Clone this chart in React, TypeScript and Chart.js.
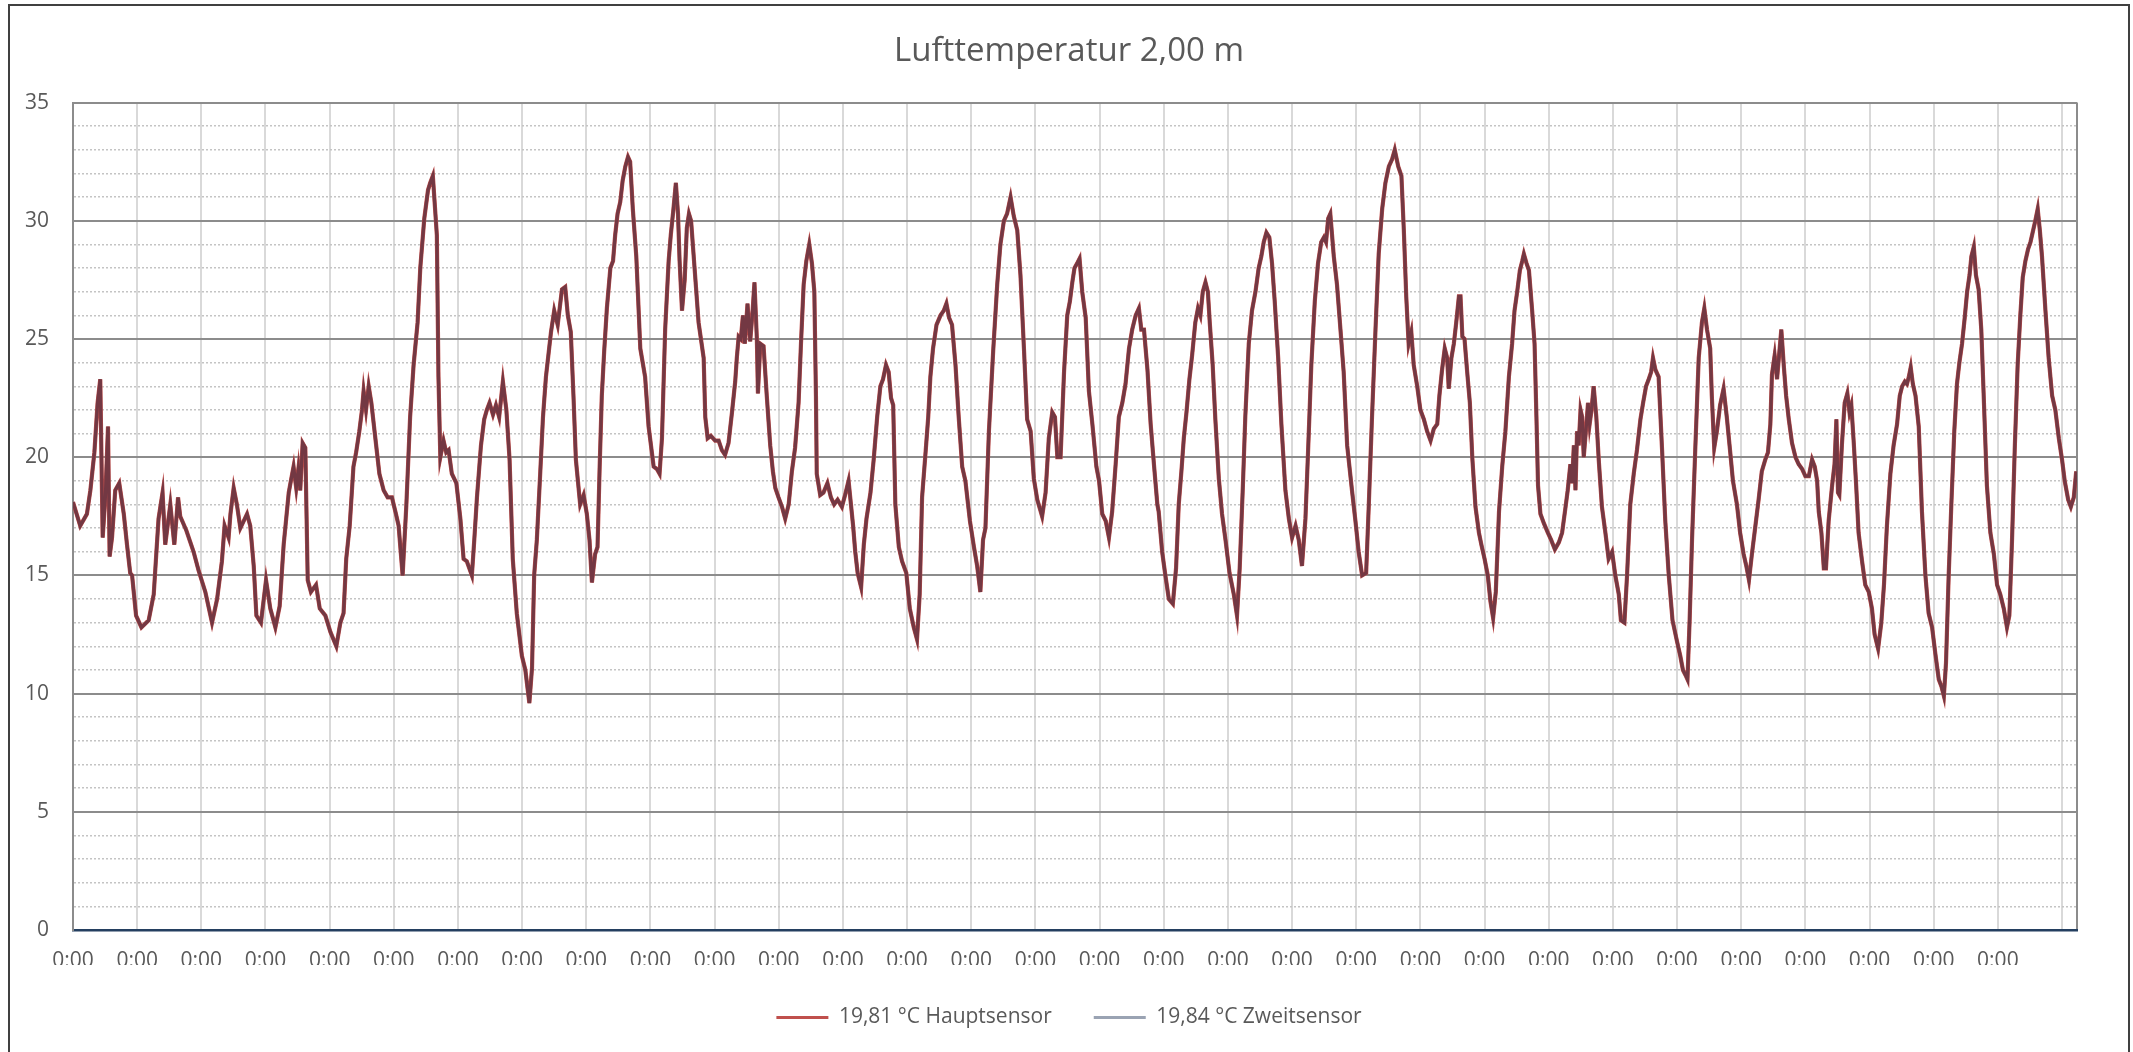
import React, { useEffect, useRef } from "react";
import { Chart, registerables } from "chart.js";

Chart.register(...registerables);

// ---- data (hours since first 0:00, temperature in °C) ----
const hours = [
  0, 2.7, 5.2, 6.5, 8.0, 9.2, 10.2, 11.1, 12.1, 13.1, 13.7, 14.6, 15.8, 17.3, 19.0, 20.2, 21.4, 22.1, 23.6,
  25.6, 28.3, 30.2, 31.2, 32.0, 33.5, 34.5, 36.4, 37.9, 39.3, 40.1, 42.4, 45.1, 47.0,
  49.5, 52.0, 53.9, 55.7, 56.7, 58.2, 58.9, 60.1, 61.3, 62.6, 65.1, 66.3, 67.6, 68.6, 70.3,
  72.2, 73.8, 75.7, 77.3, 78.8, 80.7, 81.5, 82.5, 83.5, 84.3, 85.0, 85.9, 86.9, 87.8, 89.0, 90.9, 92.3, 94.4, 96.3,
  98.5, 100.0, 101.2, 102.2, 103.5, 104.9, 105.9, 107.1, 108.1, 108.7, 109.6, 110.6, 111.6, 112.8, 114.6, 116.2, 117.7, 119.3,
  120.8, 121.8, 123.3, 124.7, 126.1, 127.4, 128.9, 129.9, 131.4, 132.8, 133.6, 134.6, 136.1, 136.7, 137.4, 138.6, 139.6, 140.5, 141.7, 143.4,
  144.9, 146.1, 147.3, 149.2, 150.1, 151.1, 152.6, 153.8, 154.8, 155.8, 157.1, 158.2, 159.4, 160.8, 162.1, 163.3, 164.5, 166.0, 167.9,
  169.2, 170.7, 171.7, 172.5, 173.5, 174.8, 175.8, 176.9, 177.9, 178.8, 180.0, 181.3, 182.9, 184.1, 185.1, 186.2, 187.2, 188.1, 189.7, 191.0,
  192.2, 193.2, 194.1, 195.3, 196.2, 197.0, 197.8, 198.7, 199.7, 201.0, 202.0, 202.8, 203.7, 204.7, 205.6, 206.6, 207.6, 208.4, 209.4, 210.7, 212.2, 214.0,
  215.3, 217.2, 218.4, 219.4, 220.3, 221.5, 222.8, 223.6, 224.6, 225.5, 226.3, 226.9, 227.8, 228.8, 229.6, 230.4, 231.2, 232.5, 234.0, 235.9, 236.5, 237.4, 238.6,
  240.2, 241.5, 242.7, 243.9, 245.2, 246.5, 247.7, 248.3, 249.0, 249.8, 250.6, 251.3, 252.3, 253.3, 254.1, 254.9, 255.8, 256.2, 257.1, 258.3, 259.5, 260.8, 261.8, 262.7,
  263.9, 265.2, 266.4, 267.7, 268.9, 270.1, 271.4, 272.3, 273.3, 274.3, 275.4, 276.4, 277.3, 277.9, 278.2, 279.5, 280.7, 282.2, 283.5, 284.7, 286.0, 287.6,
  288.8, 290.1, 291.8, 292.6, 293.5, 294.8, 295.8, 296.8, 298.3, 299.5, 300.8, 302.0, 303.0, 304.1, 305.1, 306.0, 306.8, 307.6, 308.9, 310.1, 311.7,
  313.0, 314.5, 315.7, 316.7, 317.6, 318.9, 319.9, 320.7, 321.7, 323.0, 324.5, 325.7, 326.7, 327.7, 328.8, 330.1, 331.3, 332.6, 333.8, 335.5,
  337.0, 338.2, 339.4, 340.4, 341.3, 342.6, 344.2, 345.7, 346.9, 348.2, 349.4, 350.7, 351.9, 353.2, 354.4, 355.7, 356.9, 358.2, 359.4,
  360.7, 362.5, 363.8, 365.0, 366.3, 367.3, 368.2, 369.4, 370.7, 371.9, 372.9, 373.8, 374.6, 375.6, 376.5, 377.5, 378.8, 380.0, 381.3, 382.8,
  383.8, 385.0, 386.3, 387.5, 388.7, 390.0, 391.2, 392.5, 393.7, 395.0, 396.2, 397.5, 398.7, 399.6, 400.6, 401.9, 403.1, 404.4, 405.6,
  406.1, 407.4, 408.6, 409.9, 411.4, 412.6, 413.6, 414.6, 415.5, 416.5, 417.6, 418.6, 419.8, 420.8, 421.7, 422.6, 423.6, 424.5, 425.2, 426.3, 427.3, 428.6, 429.8, 431.1,
  432.6, 434.2, 435.4, 436.4, 437.6, 438.5, 439.8, 441.0, 442.3, 443.5, 444.5, 445.4, 446.4, 447.5, 448.5, 449.5, 450.8, 452.0, 453.5, 454.8,
  456.0, 457.3, 458.5, 459.7, 461.0, 462.0, 463.2, 464.5, 465.7, 466.9, 467.9, 468.7, 469.5, 470.3, 471.6, 472.8, 474.1, 475.3, 476.6, 478.4, 479.7,
  480.9, 482.2, 483.7, 484.7, 485.9, 487.2, 488.4, 489.7, 490.9, 492.2, 493.4, 494.4, 495.7, 496.9, 497.8, 498.7, 499.6, 500.6, 501.5, 502.8,
  504.0, 505.3, 506.5, 507.8, 509.0, 510.3, 511.1, 512.1, 513.1, 514.0, 514.6, 515.6, 516.5, 517.4, 518.4, 519.0, 519.7, 520.5, 521.5, 522.5, 523.4, 524.6, 525.9, 526.8,
  528.0, 529.2, 530.2, 531.2, 532.2, 533.4, 534.6, 535.8, 537.1, 538.3, 539.2, 540.2, 541.2, 542.1, 542.7, 543.7, 544.6, 545.8, 546.7, 547.4, 548.0, 548.9, 550.2, 551.7,
  552.9, 554.3, 555.8, 557.0, 558.3, 559.1, 560.1, 560.7, 561.4, 562.0, 562.6, 563.2, 563.9, 564.5, 565.1, 566.1, 566.7, 567.3, 568.0, 568.8, 569.8, 570.7, 571.9, 573.2, 574.4, 575.7,
  576.9, 578.2, 579.0, 580.3, 581.3, 582.5, 583.8, 585.0, 586.3, 587.3, 588.4, 589.4, 590.3, 591.0, 591.9, 593.1, 594.4, 595.6, 596.9, 598.3,
  600.0, 601.2, 602.2, 603.1, 603.9, 604.7, 605.6, 606.8, 608.1, 609.3, 610.2, 611.2, 612.4, 613.0, 613.9, 614.9, 616.1, 617.4, 618.6, 619.9, 620.9, 622.4, 623.6,
  624.9, 625.9, 626.9, 628.0, 629.2, 630.5, 631.7, 633.0, 634.0, 634.9, 635.5, 636.5, 637.4, 638.3, 639.0, 639.9, 640.8, 641.8, 643.0, 644.3, 645.5, 646.8,
  648.0, 649.3, 650.5, 651.5, 652.4, 653.0, 654.0, 654.9, 655.7, 656.7, 658.0, 658.9, 659.6, 660.2, 660.7, 661.7, 662.7, 663.7, 664.5, 665.2, 666.1, 667.0, 667.9, 669.2, 670.4, 671.7,
  672.9, 673.9, 675.2, 676.4, 677.4, 678.5, 679.8, 681.0, 682.3, 683.3, 684.2, 685.2, 686.0, 686.7, 687.4, 688.2, 689.2, 690.4, 691.6, 692.9, 694.1, 695.4,
  696.6, 697.9, 698.9, 699.8, 700.6, 701.6, 702.6, 703.7, 704.7, 705.6, 706.6, 707.6, 708.5, 709.4, 710.1, 711.0, 711.8, 712.8, 713.8, 714.7, 715.9, 717.2, 718.5, 719.7,
  720.9, 722.2, 723.4, 724.3, 725.3, 726.3, 727.4, 728.4, 729.3, 730.3, 731.3, 732.2, 733.2, 734.0, 734.9, 735.7, 736.5, 737.8, 739.0, 740.3, 741.5, 742.8,
  744.0, 745.0, 746.3, 747.3, 748.4, 749.3,
];

const hauptsensor = [
  18.1, 17.1, 17.6, 18.6, 20.2, 22.3, 23.3, 16.6, 18.3, 21.3, 15.8, 16.6, 18.6, 18.9, 17.6, 16.3, 15.1, 15.0, 13.3,
  12.8, 13.1, 14.2, 16.0, 17.4, 18.5, 16.3, 18.0, 16.3, 18.3, 17.5, 16.9, 16.0, 15.2,
  14.3, 13.0, 14.0, 15.6, 17.1, 16.6, 17.6, 18.7, 18.0, 17.0, 17.6, 17.1, 15.4, 13.3, 13.0,
  14.8, 13.6, 12.8, 13.7, 16.3, 18.5, 19.0, 19.6, 18.7, 19.5, 18.6, 20.6, 20.4, 14.8, 14.3, 14.6, 13.6, 13.3, 12.6,
  12.0, 13.0, 13.4, 15.7, 17.1, 19.6, 20.2, 21.1, 22.0, 22.8, 22.0, 23.0, 22.3, 21.1, 19.3, 18.6, 18.3, 18.3,
  17.6, 17.1, 15.0, 18.0, 21.7, 23.9, 25.7, 28.0, 30.1, 31.3, 31.6, 31.9, 29.4, 23.4, 20.0, 20.7, 20.2, 20.3, 19.3, 18.9,
  17.4, 15.7, 15.6, 15.0, 16.5, 18.3, 20.5, 21.6, 22.0, 22.3, 21.8, 22.2, 21.7, 23.2, 22.0, 19.9, 15.7, 13.4, 11.6,
  11.0, 9.6, 11.1, 15.0, 16.5, 19.4, 21.7, 23.4, 24.4, 25.3, 26.2, 25.6, 27.1, 27.2, 26.0, 25.3, 22.6, 19.9, 18.0, 18.4,
  17.6, 16.5, 14.7, 15.9, 16.2, 19.6, 22.6, 24.5, 26.3, 28.0, 28.3, 29.4, 30.3, 30.8, 31.7, 32.3, 32.7, 32.5, 30.5, 28.5, 24.6, 23.4,
  21.3, 19.6, 19.5, 19.3, 20.8, 25.4, 28.3, 29.4, 30.5, 31.6, 30.3, 28.3, 26.2, 27.5, 29.7, 30.3, 30.0, 28.0, 25.7, 24.2, 21.7, 20.8, 20.9,
  20.7, 20.7, 20.3, 20.1, 20.6, 21.9, 23.2, 24.2, 25.1, 25.0, 26.0, 24.8, 26.5, 24.9, 26.0, 27.4, 25.0, 22.7, 24.8, 24.7, 22.6, 20.5, 19.4, 18.7,
  18.3, 17.9, 17.4, 18.0, 19.4, 20.4, 22.3, 24.8, 27.3, 28.3, 29.0, 28.2, 27.0, 22.6, 19.3, 18.4, 18.5, 18.9, 18.3, 18.0, 18.2, 17.9,
  18.4, 19.0, 17.1, 16.0, 15.1, 14.5, 16.3, 17.4, 18.5, 19.9, 21.7, 23.0, 23.3, 23.9, 23.6, 22.5, 22.2, 18.0, 16.2, 15.6, 15.1,
  13.6, 12.8, 12.3, 14.2, 18.3, 20.2, 21.7, 23.4, 24.6, 25.6, 26.0, 26.2, 26.5, 25.9, 25.6, 23.9, 21.7, 19.6, 19.0, 17.3,
  16.2, 15.4, 14.3, 16.5, 17.0, 21.1, 24.5, 27.3, 29.0, 30.0, 30.3, 31.0, 30.2, 29.6, 27.7, 24.6, 21.6, 21.1, 19.1,
  18.2, 17.5, 18.5, 20.8, 21.9, 21.7, 20.0, 20.0, 23.6, 26.0, 26.6, 27.4, 28.0, 28.2, 28.4, 27.0, 25.9, 22.8, 21.4, 19.6,
  19.0, 17.6, 17.3, 16.6, 17.7, 19.7, 21.7, 22.3, 23.1, 24.6, 25.4, 26.0, 26.3, 25.4, 25.4, 23.7, 21.4, 19.6, 18.0,
  17.7, 16.0, 15.0, 14.0, 13.8, 15.3, 18.0, 19.4, 20.8, 21.9, 23.3, 24.3, 25.7, 26.3, 26.0, 27.0, 27.4, 27.0, 25.7, 23.9, 21.6, 19.1, 17.6, 16.5,
  15.1, 14.2, 13.3, 15.3, 18.8, 21.7, 24.8, 26.2, 27.0, 28.0, 28.5, 29.1, 29.5, 29.3, 28.2, 26.6, 24.2, 21.4, 18.6, 17.4,
  16.6, 17.1, 16.5, 15.4, 17.4, 20.3, 23.9, 26.6, 28.2, 29.1, 29.3, 29.1, 30.1, 30.3, 28.5, 27.3, 25.4, 23.6, 20.5, 18.6, 17.3,
  16.0, 15.0, 15.1, 18.0, 21.7, 25.4, 28.6, 30.5, 31.6, 32.3, 32.6, 33.0, 32.3, 31.9, 29.6, 26.8, 24.8, 25.3, 23.9, 23.0,
  22.0, 21.6, 21.1, 20.7, 21.2, 21.4, 22.6, 23.7, 24.6, 24.2, 22.9, 24.2, 24.8, 25.7, 26.8, 26.8, 25.1, 25.0, 23.6, 22.3, 20.0, 17.9, 16.8, 16.3,
  15.7, 15.0, 13.9, 13.2, 14.3, 17.7, 19.6, 21.1, 23.4, 24.8, 26.2, 27.0, 27.9, 28.3, 28.6, 28.2, 27.9, 26.2, 24.8, 21.7, 18.8, 17.6, 17.2, 16.8,
  16.5, 16.1, 16.4, 16.8, 17.9, 18.6, 19.7, 18.9, 20.5, 18.6, 21.1, 20.5, 22.0, 21.7, 20.0, 21.4, 22.3, 21.4, 22.0, 23.0, 21.7, 19.9, 17.9, 16.8, 15.7, 16.0,
  15.0, 14.2, 13.1, 13.0, 15.0, 18.0, 19.3, 20.3, 21.6, 22.3, 23.0, 23.3, 23.6, 24.2, 23.7, 23.4, 20.3, 17.3, 15.0, 13.1,
  12.2, 11.6, 11.0, 10.8, 10.6, 13.1, 16.5, 20.3, 24.2, 25.7, 26.3, 25.4, 24.6, 22.6, 20.4, 21.1, 22.2, 22.9, 21.7, 20.2, 19.0, 18.0, 16.8,
  15.9, 15.4, 14.8, 15.9, 17.0, 18.2, 19.4, 19.9, 20.2, 21.4, 23.5, 24.3, 23.3, 24.5, 25.4, 23.9, 22.6, 21.6, 20.6, 20.0, 19.7, 19.5,
  19.2, 19.2, 19.9, 19.6, 19.0, 17.7, 16.8, 15.3, 15.3, 17.3, 18.8, 19.7, 21.6, 18.5, 18.4, 20.6, 22.3, 22.7, 21.9, 22.2, 20.6, 18.8, 16.8, 15.6, 14.6, 14.3,
  13.6, 12.5, 11.9, 13.0, 14.6, 17.1, 19.3, 20.5, 21.4, 22.6, 23.0, 23.2, 23.1, 23.4, 23.8, 23.1, 22.6, 21.3, 17.7, 15.0, 13.4, 12.8,
  11.7, 10.6, 10.3, 9.9, 11.3, 15.0, 18.0, 21.1, 23.1, 24.0, 24.8, 25.9, 27.0, 27.7, 28.5, 28.9, 27.7, 27.1, 25.4, 22.6, 18.8, 16.8, 15.9, 14.6,
  14.2, 13.6, 12.8, 13.3, 16.5, 20.3, 23.9, 26.0, 27.6, 28.3, 28.8, 29.1, 29.6, 30.0, 30.5, 29.6, 28.5, 26.2, 24.2, 22.6, 22.0, 20.8,
  19.9, 19.0, 18.2, 17.9, 18.3, 19.4,
];

// The second sensor's trace lies exactly on top of the first one in the picture.
const zweitsensor = hauptsensor;

const seriesLabels = ["19,81 °C Hauptsensor", "19,84 °C Zweitsensor"];
const legendColors = ["#C0504D", "#9AA3B3"];
const lineColors = ["#733843", "#C0504D"];

const dayTickHours = [
  0, 24, 48, 72, 96, 120, 144, 168, 192, 216, 240, 264, 288, 312, 336, 360,
  384, 408, 432, 456, 480, 504, 528, 552, 576, 600, 624, 648, 672, 696, 720, 744,
];
const dayTickLabels = Array(31).fill("0:00");
const X_MAX = 749.6;

const TEXT = "#595959";
const FONT = "'Open Sans', 'DejaVu Sans', sans-serif";

export default function App() {
  const ref = useRef<HTMLCanvasElement>(null);

  useEffect(() => {
    if (!ref.current) return;
    Chart.defaults.font.family = FONT;
    const chart = new Chart(ref.current, {
      type: "line",
      data: {
        datasets: [
          {
            label: seriesLabels[0],
            data: hours.map((h, i) => ({ x: h, y: hauptsensor[i] })),
            borderColor: lineColors[0],
            backgroundColor: lineColors[0],
            borderWidth: 3.3,
            pointRadius: 0,
            tension: 0,
          },
          {
            label: seriesLabels[1],
            data: hours.map((h, i) => ({ x: h, y: zweitsensor[i] })),
            borderColor: lineColors[1],
            backgroundColor: lineColors[1],
            borderWidth: 4.2,
            pointRadius: 0,
            tension: 0,
          },
        ],
      },
      options: {
        animation: false,
        responsive: false,
        events: [],
        layout: { padding: 0 },
        plugins: {
          title: {
            display: true,
            text: "Lufttemperatur 2,00 m",
            color: TEXT,
            font: { size: 33, weight: "normal", family: FONT },
            padding: { top: 26, bottom: 31 },
          },
          legend: {
            display: true,
            position: "bottom",
            labels: {
              color: TEXT,
              font: { size: 21, family: FONT },
              boxWidth: 52,
              boxHeight: 3,
              padding: 42,
              generateLabels: (c: any) => {
                const items = (Chart.defaults.plugins.legend.labels as any).generateLabels(c);
                return items.map((it: any) => ({
                  ...it,
                  fillStyle: legendColors[it.datasetIndex],
                  strokeStyle: legendColors[it.datasetIndex],
                  lineWidth: 0,
                }));
              },
            },
          },
          tooltip: { enabled: false },
        },
        scales: {
          x: {
            type: "linear",
            min: 0,
            max: X_MAX,
            afterBuildTicks: (scale: any) => {
              scale.ticks = [...dayTickHours, X_MAX].map((v) => ({ value: v }));
            },
            afterFit: (scale: any) => {
              scale.height = 35;
            },
            ticks: {
              autoSkip: false,
              maxRotation: 0,
              minRotation: 0,
              padding: 18,
              color: TEXT,
              font: { size: 21, family: FONT },
              callback: (_v: any, index: number) =>
                index < dayTickLabels.length ? dayTickLabels[index] : "",
            },
            grid: {
              drawTicks: false,
              color: (ctx: any) =>
                ctx.tick && ctx.tick.value === X_MAX ? "#8C8C8C" : "#D9D9D9",
              lineWidth: 2,
            },
            border: { display: true, color: "#243F60", width: 2.5 },
          },
          y: {
            min: 0,
            max: 35,
            afterFit: (scale: any) => {
              scale.width = 63;
            },
            ticks: {
              stepSize: 1,
              autoSkip: false,
              padding: 24,
              color: TEXT,
              font: { size: 21, family: FONT },
              callback: (v: any) => (Number(v) % 5 === 0 ? String(v) : ""),
            },
            grid: {
              drawTicks: false,
              color: (ctx: any) =>
                ctx.tick && ctx.tick.value % 5 === 0 ? "#8C8C8C" : "#C4C4C4",
              lineWidth: (ctx: any) => (ctx.tick && ctx.tick.value % 5 === 0 ? 2 : 1.5),
            },
            border: {
              display: true,
              color: "#8C8C8C",
              width: 2,
              dash: (ctx: any) => (ctx.tick && ctx.tick.value % 5 !== 0 ? [2, 2] : []),
            },
          },
          // empty right-hand axis that only reserves the margin right of the plot
          yRight: {
            position: "right",
            min: 0,
            max: 35,
            afterFit: (scale: any) => {
              scale.width = 51;
            },
            ticks: { display: false },
            grid: { display: false, drawTicks: false },
            border: { display: false },
          },
        },
      } as any,
    });
    return () => chart.destroy();
  }, []);

  return (
    <div
      style={{
        position: "fixed",
        left: 8,
        top: 4,
        width: 2118,
        height: 1060,
        border: "2px solid #404040",
        background: "#ffffff",
        overflow: "hidden",
      }}
    >
      <canvas ref={ref} width={2118} height={1032} style={{ display: "block" }} />
    </div>
  );
}
